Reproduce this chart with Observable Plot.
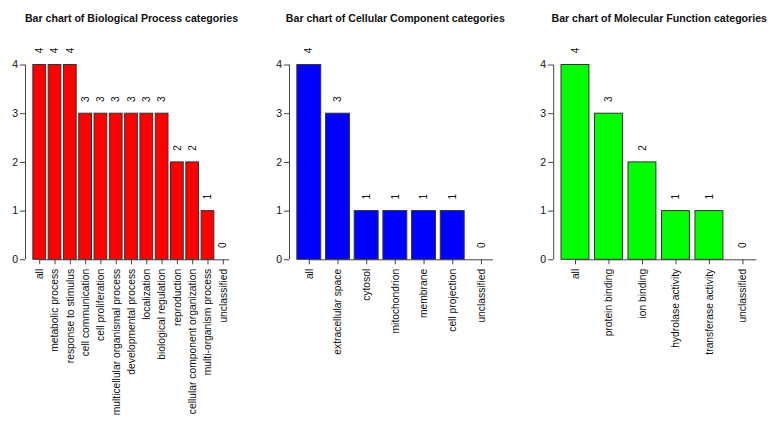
<!DOCTYPE html>
<html>
<head>
<meta charset="utf-8">
<script src="https://cdn.jsdelivr.net/npm/d3@7"></script>
<script src="https://cdn.jsdelivr.net/npm/@observablehq/plot@0.6"></script>
<style>
  html, body { margin: 0; padding: 0; background: #fff; }
  #wrap { position: relative; width: 780px; height: 428px; display: flex; }
  #wrap svg { display: block; overflow: visible; }
</style>
</head>
<body>
<div id="wrap"></div>
<script>
const bpTitle = "Bar chart of Biological Process categories";
const bpCategories = ["all", "metabolic process", "response to stimulus", "cell communication", "cell proliferation", "multicellular organismal process", "developmental process", "localization", "biological regulation", "reproduction", "cellular component organization", "multi-organism process", "unclassified"];
const bpValues = [4, 4, 4, 3, 3, 3, 3, 3, 3, 2, 2, 1, 0];

const ccTitle = "Bar chart of Cellular Component categories";
const ccCategories = ["all", "extracellular space", "cytosol", "mitochondrion", "membrane", "cell projection", "unclassified"];
const ccValues = [4, 3, 1, 1, 1, 1, 0];

const mfTitle = "Bar chart of Molecular Function categories";
const mfCategories = ["all", "protein binding", "ion binding", "hydrolase activity", "transferase activity", "unclassified"];
const mfValues = [4, 3, 2, 1, 1, 0];

const yTicks = [0, 1, 2, 3, 4];

const FONT = "'Liberation Sans', Arial, Helvetica, sans-serif";
const INK = "#111";
const AXIS = "#444";

// R barplot layout: bar width 1, space 0.2
function panel({title, categories, values, color, marginLeft, marginRight}) {
  const n = categories.length;
  const data = categories.map((c, i) => ({
    cat: c, value: values[i],
    left: 0.2 + i * 1.2, right: 1.2 + i * 1.2, center: 0.7 + i * 1.2
  }));
  const lo = 0.2, hi = 1.2 * n;
  const pad = 0.04 * (hi - lo);
  const xmin = lo - pad, xmax = hi + pad;
  const labelOf = new Map(data.map(d => [d.center, d.cat]));
  return Plot.plot({
    width: 260,
    height: 428,
    marginLeft, marginRight,
    marginTop: 64.5,
    marginBottom: 168.7,
    style: {fontFamily: FONT, color: INK, background: "#fff"},
    x: {domain: [xmin, xmax], axis: null},
    y: {domain: [0, 4], axis: null},
    marks: [
      Plot.rectY(data, {x1: "left", x2: "right", y: "value", fill: color, stroke: "#333", strokeWidth: 1}),
      Plot.ruleY([0], {x1: data[0].center, x2: data[n - 1].right, stroke: AXIS, strokeWidth: 1}),
      Plot.ruleX([xmin], {y1: 0, y2: 4, stroke: AXIS, strokeWidth: 1}),
      Plot.axisY({ticks: yTicks, label: null, tickSize: 5, tickPadding: 2.5, fontSize: 10.5, stroke: AXIS, color: INK, tickFormat: d => String(d)}),
      Plot.axisX({ticks: data.map(d => d.center), label: null, tickFormat: d => labelOf.get(d), tickSize: 5, tickPadding: 4,
        tickRotate: -90, fontSize: 10.3, stroke: AXIS, color: INK}),
      Plot.text(data, {x: "center", y: "value", text: d => String(d.value), rotate: -90, dy: -14.5,
        textAnchor: "middle", lineAnchor: "middle", fontSize: 10, fill: INK}),
      Plot.text([title], {frameAnchor: "top", text: d => d, dy: -43, lineAnchor: "bottom",
        fontWeight: "bold", fontSize: 10.6, fill: INK})
    ]
  });
}

const wrap = document.getElementById("wrap");
wrap.appendChild(panel({title: bpTitle, categories: bpCategories, values: bpValues, color: "#ff0000", marginLeft: 25, marginRight: 23}));
wrap.appendChild(panel({title: ccTitle, categories: ccCategories, values: ccValues, color: "#0000ff", marginLeft: 29, marginRight: 19.3}));
wrap.appendChild(panel({title: mfTitle, categories: mfCategories, values: mfValues, color: "#00ff00", marginLeft: 33.2, marginRight: 15.8}));
</script>
</body>
</html>
